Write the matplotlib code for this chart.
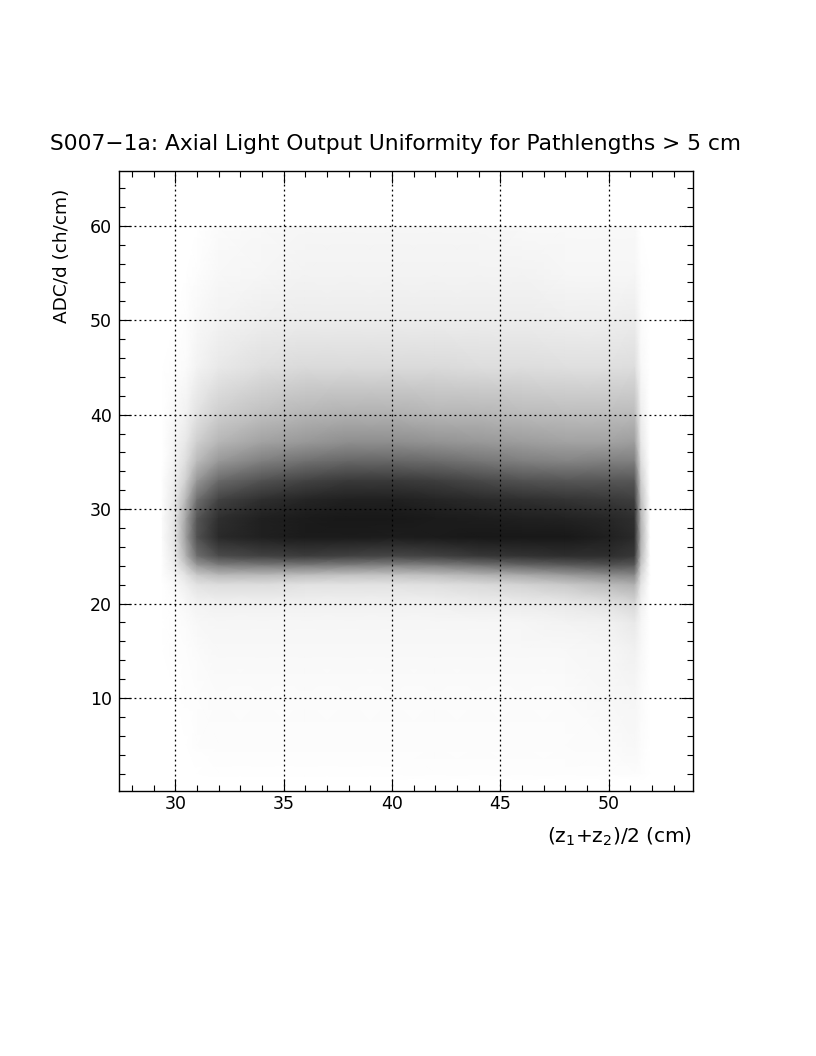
"""
Axial light output uniformity. The original has tens of thousands of single dots,
which can't be read one by one, so the picture is drawn from an ink density table
(share of black per node) estimated by eye from the reference.
"""
import matplotlib
matplotlib.use("Agg")
import matplotlib.pyplot as plt
from matplotlib.ticker import MultipleLocator

plt.rcParams['font.family'] = ['DejaVu Sans']
plt.rcParams['mathtext.default'] = 'regular'

x_nodes = [29.4, 30.0, 30.5, 31.0, 32.0, 34.0, 36.0, 38.0, 40.0, 42.0, 44.0, 46.0, 48.0, 50.0, 51.2, 51.5, 51.9]
y_nodes = [60.1, 59.8, 55, 50, 45, 40, 37, 35, 33, 31, 29, 27, 25, 24, 23, 22, 20, 18, 15, 10, 5, 2, 1.2]

ink = [
    [0, 0, 0, 0, 0, 0, 0, 0, 0, 0, 0, 0, 0, 0, 0, 0, 0],
    [0, 0, 0, 0, .02, .03, .04, .04, .04, .04, .04, .03, .03, .03, .03, 0, 0],
    [0, 0, 0, .01, .03, .04, .05, .05, .05, .05, .05, .05, .04, .04, .04, .01, 0],
    [0, 0, .01, .03, .05, .07, .08, .08, .08, .08, .08, .08, .07, .07, .08, .02, 0],
    [0, .01, .02, .05, .09, .13, .15, .15, .15, .15, .14, .14, .13, .13, .14, .03, 0],
    [0, .03, .06, .12, .20, .26, .30, .32, .32, .30, .30, .28, .27, .27, .28, .07, 0],
    [0, .05, .10, .20, .30, .38, .42, .46, .46, .44, .42, .40, .38, .38, .40, .10, 0],
    [0, .06, .14, .28, .42, .52, .58, .62, .62, .60, .56, .52, .50, .52, .52, .14, 0],
    [.01, .08, .20, .42, .60, .70, .76, .80, .80, .78, .74, .70, .68, .68, .68, .20, 0],
    [.01, .10, .30, .58, .76, .84, .88, .90, .90, .88, .86, .84, .82, .80, .78, .26, .01],
    [.02, .12, .38, .68, .84, .90, .92, .93, .93, .92, .91, .90, .89, .87, .84, .30, .01],
    [.02, .12, .40, .70, .86, .90, .92, .92, .91, .92, .93, .93, .93, .90, .86, .32, .01],
    [.01, .10, .32, .58, .72, .76, .78, .76, .74, .76, .80, .82, .84, .84, .80, .28, .01],
    [.01, .08, .22, .40, .50, .52, .52, .50, .48, .50, .55, .60, .64, .68, .66, .22, .01],
    [.01, .05, .12, .22, .28, .28, .26, .24, .24, .26, .30, .34, .40, .46, .48, .16, .01],
    [0, .03, .07, .12, .14, .14, .12, .12, .12, .13, .15, .18, .22, .28, .32, .11, 0],
    [0, .01, .03, .05, .06, .06, .06, .06, .06, .06, .07, .08, .09, .12, .16, .06, 0],
    [0, .01, .02, .03, .04, .04, .04, .04, .04, .04, .04, .04, .05, .06, .09, .04, 0],
    [0, .01, .01, .02, .03, .03, .03, .03, .03, .03, .03, .03, .03, .04, .06, .03, 0],
    [0, 0, .01, .01, .02, .02, .02, .02, .02, .02, .02, .02, .02, .03, .04, .02, 0],
    [0, 0, 0, .01, .015, .015, .015, .015, .015, .015, .015, .015, .015, .02, .03, .015, 0],
    [0, 0, 0, 0, .005, .005, .005, .005, .008, .01, .01, .01, .01, .01, .015, .01, 0],
    [0, 0, 0, 0, 0, 0, 0, 0, 0, 0, 0, 0, 0, 0, 0, 0, 0],
]

x_ticks = [30, 35, 40, 45, 50]
y_ticks = [10, 20, 30, 40, 50, 60]

fig = plt.figure(figsize=(8.16, 10.56), dpi=100)
ax = fig.add_axes([119 / 816, 1 - 791 / 1056, 574 / 816, 620 / 1056])

ax.pcolormesh(x_nodes, y_nodes, ink, shading='gouraud', cmap='gray_r', vmin=0, vmax=1.03, rasterized=True)

ax.set_xlim(27.4, 53.9)
ax.set_ylim(0.16, 65.8)
ax.set_xticks(x_ticks)
ax.set_yticks(y_ticks)
ax.xaxis.set_minor_locator(MultipleLocator(1))
ax.yaxis.set_minor_locator(MultipleLocator(2))
ax.tick_params(which='major', direction='in', length=8.5, width=0.8, top=True, right=True, labelsize=12.5)
ax.tick_params(axis='x', which='major', pad=3)
ax.tick_params(axis='y', which='major', pad=5)
ax.tick_params(which='minor', direction='in', length=4.5, width=0.8, top=True, right=True)
ax.grid(True, which='major', color='k', linestyle=(0, (1.5, 2.5)), linewidth=0.9)
ax.set_axisbelow(False)
for s in ax.spines.values():
    s.set_linewidth(1.0)

fig.text(50 / 816, 1 - 150 / 1056, "S007\u22121a: Axial Light Output Uniformity for Pathlengths > 5 cm",
         fontsize=15.7, va='baseline', ha='left')
fig.text(692 / 816, 1 - 843 / 1056, "(z$_1$+z$_2$)/2 (cm)", fontsize=14.5, ha='right', va='baseline')
fig.text(71 / 816, 1 - 323 / 1056, "ADC/d (ch/cm)", fontsize=13.3, rotation=90, ha='right', va='bottom')

fig.savefig("out.png", dpi=100)
